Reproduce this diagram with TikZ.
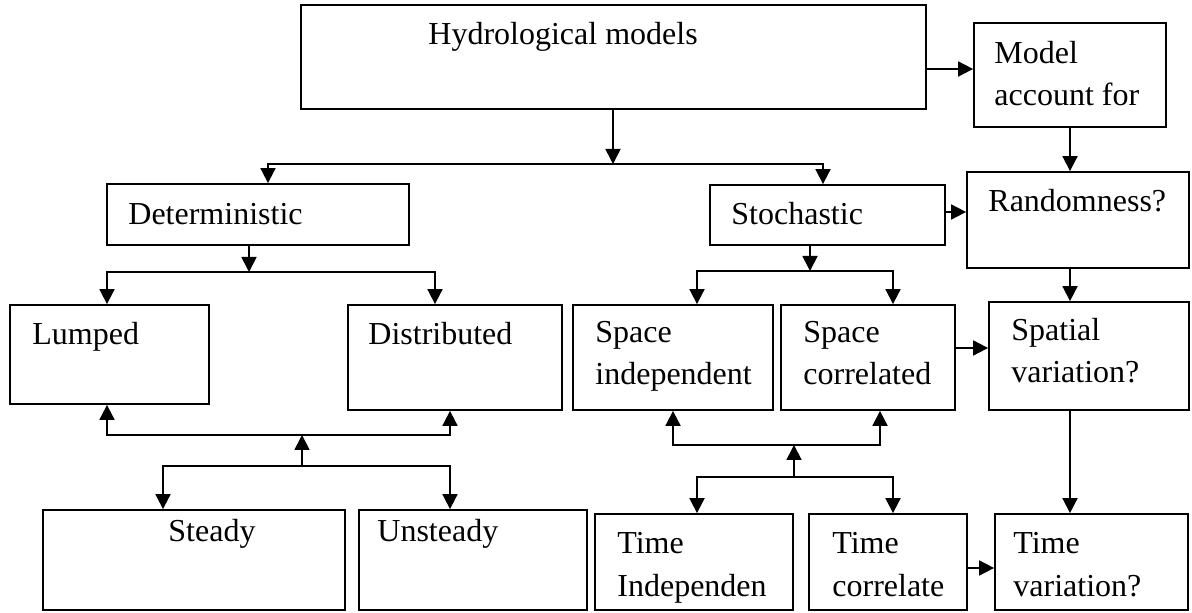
\documentclass[tikz,border=0pt]{standalone}
\usepackage{fontspec}
\setmainfont{Liberation Serif}
\usetikzlibrary{arrows.meta,fit}
\begin{document}
\begin{tikzpicture}[x=0.5pt,y=-0.5pt,
  box/.style={draw,line width=0.9pt,inner sep=0pt},
  lbl/.style={anchor=base west,align=left,inner sep=0pt,
    font=\fontsize{16pt}{21pt}\selectfont},
  arr/.style={line width=0.9pt,-{Triangle[length=7.5pt,width=7.5pt]}}]
\useasboundingbox (0,0) rectangle (1192,613);

% boxes
\node[box,fit={(301,5) (926,109)}]    (hyd) {};
\node[box,fit={(974,23) (1166,127)}]  (mod) {};
\node[box,fit={(107,184) (409,245)}]  (det) {};
\node[box,fit={(710,185) (945,245)}]  (sto) {};
\node[box,fit={(967,172) (1189,268)}] (ran) {};
\node[box,fit={(10,305) (209,404)}]   (lum) {};
\node[box,fit={(348,305) (562,410)}]  (dis) {};
\node[box,fit={(573,305) (773,410)}]  (spi) {};
\node[box,fit={(781,305) (955,410)}]  (spc) {};
\node[box,fit={(989,302) (1189,410)}] (spa) {};
\node[box,fit={(43,510) (345,610)}]   (ste) {};
\node[box,fit={(359,510) (587,610)}]  (uns) {};
\node[box,fit={(595,514) (793,610)}]  (tin) {};
\node[box,fit={(809,514) (967,610)}]  (tco) {};
\node[box,fit={(995,514) (1188,610)}] (tva) {};

% labels (placed at the baseline of their last line)
\node[lbl] (thyd) at (428,45)   {Hydrological models};
\node[lbl] (tmod) at (994,106)  {Model\\account for};
\node[lbl] (tdet) at (128,225)  {Deterministic};
\node[lbl] (tsto) at (731,225)  {Stochastic};
\node[lbl] (tran) at (988,212)  {Randomness?};
\node[lbl] (tlum) at (32,345)   {Lumped};
\node[lbl] (tdis) at (368,345)  {Distributed};
\node[lbl] (tspi) at (595,385)  {Space\\independent};
\node[lbl] (tspc) at (803,385)  {Space\\correlated};
\node[lbl] (tspa) at (1011,383) {Spatial\\variation?};
\node[lbl] (tste) at (168,541)  {Steady};
\node[lbl] (tuns) at (377,541)  {Unsteady};
\node[lbl] (ttin) at (617,596)  {Time\\Independen};
\node[lbl] (ttco) at (832,596)  {Time\\correlate};
\node[lbl] (ttva) at (1013,596) {Time\\variation?};

% junctions of the branching lines
\coordinate (jA)  at (613,164);
\coordinate (jAl) at (268,164);
\coordinate (jAr) at (823,164);
\coordinate (jB)  at (249,272);
\coordinate (jBl) at (107,272);
\coordinate (jBr) at (435,272);
\coordinate (jC)  at (302,435);
\coordinate (jCl) at (107,435);
\coordinate (jCr) at (450,435);
\coordinate (jD)  at (302,466);
\coordinate (jDl) at (163,466);
\coordinate (jDr) at (450,466);
\coordinate (jE)  at (810,271);
\coordinate (jEl) at (697,271);
\coordinate (jEr) at (893,271);
\coordinate (jF)  at (794,445);
\coordinate (jFl) at (673,445);
\coordinate (jFr) at (880,445);
\coordinate (jG)  at (794,477);
\coordinate (jGl) at (697,477);
\coordinate (jGr) at (893,477);
% heights of the side arrows
\coordinate (hH)  at (0,69);
\coordinate (hR)  at (0,212);
\coordinate (hS)  at (0,348);
\coordinate (hT)  at (0,568);

% main split
\draw[arr] (hyd.south -| jA) -- (jA);
\draw[arr] (jA) -| (det.north -| jAl);
\draw[arr] (jA) -| (sto.north -| jAr);

% deterministic branch
\draw[arr] (det.south -| jB) -- (jB);
\draw[arr] (jB) -| (lum.north -| jBl);
\draw[arr] (jB) -| (dis.north -| jBr);
\draw[arr] (jD) -- (jC);
\draw[arr] (jC) -| (lum.south -| jCl);
\draw[arr] (jC) -| (dis.south -| jCr);
\draw[arr] (jD) -| (ste.north -| jDl);
\draw[arr] (jD) -| (uns.north -| jDr);

% stochastic branch
\draw[arr] (sto.south -| jE) -- (jE);
\draw[arr] (jE) -| (spi.north -| jEl);
\draw[arr] (jE) -| (spc.north -| jEr);
\draw[arr] (jG) -- (jF);
\draw[arr] (jF) -| (spi.south -| jFl);
\draw[arr] (jF) -| (spc.south -| jFr);
\draw[arr] (jG) -| (tin.north -| jGl);
\draw[arr] (jG) -| (tco.north -| jGr);

% right-hand chain
\draw[arr] (hyd.east |- hH) -- (mod.west |- hH);
\draw[arr] (mod.south) -- (ran.north -| mod.south);
\draw[arr] (sto.east |- hR) -- (ran.west |- hR);
\draw[arr] (ran.south -| mod.south) -- (spa.north -| mod.south);
\draw[arr] (spc.east |- hS) -- (spa.west |- hS);
\draw[arr] (spa.south -| mod.south) -- (tva.north -| mod.south);
\draw[arr] (tco.east |- hT) -- (tva.west |- hT);
\end{tikzpicture}
\end{document}
